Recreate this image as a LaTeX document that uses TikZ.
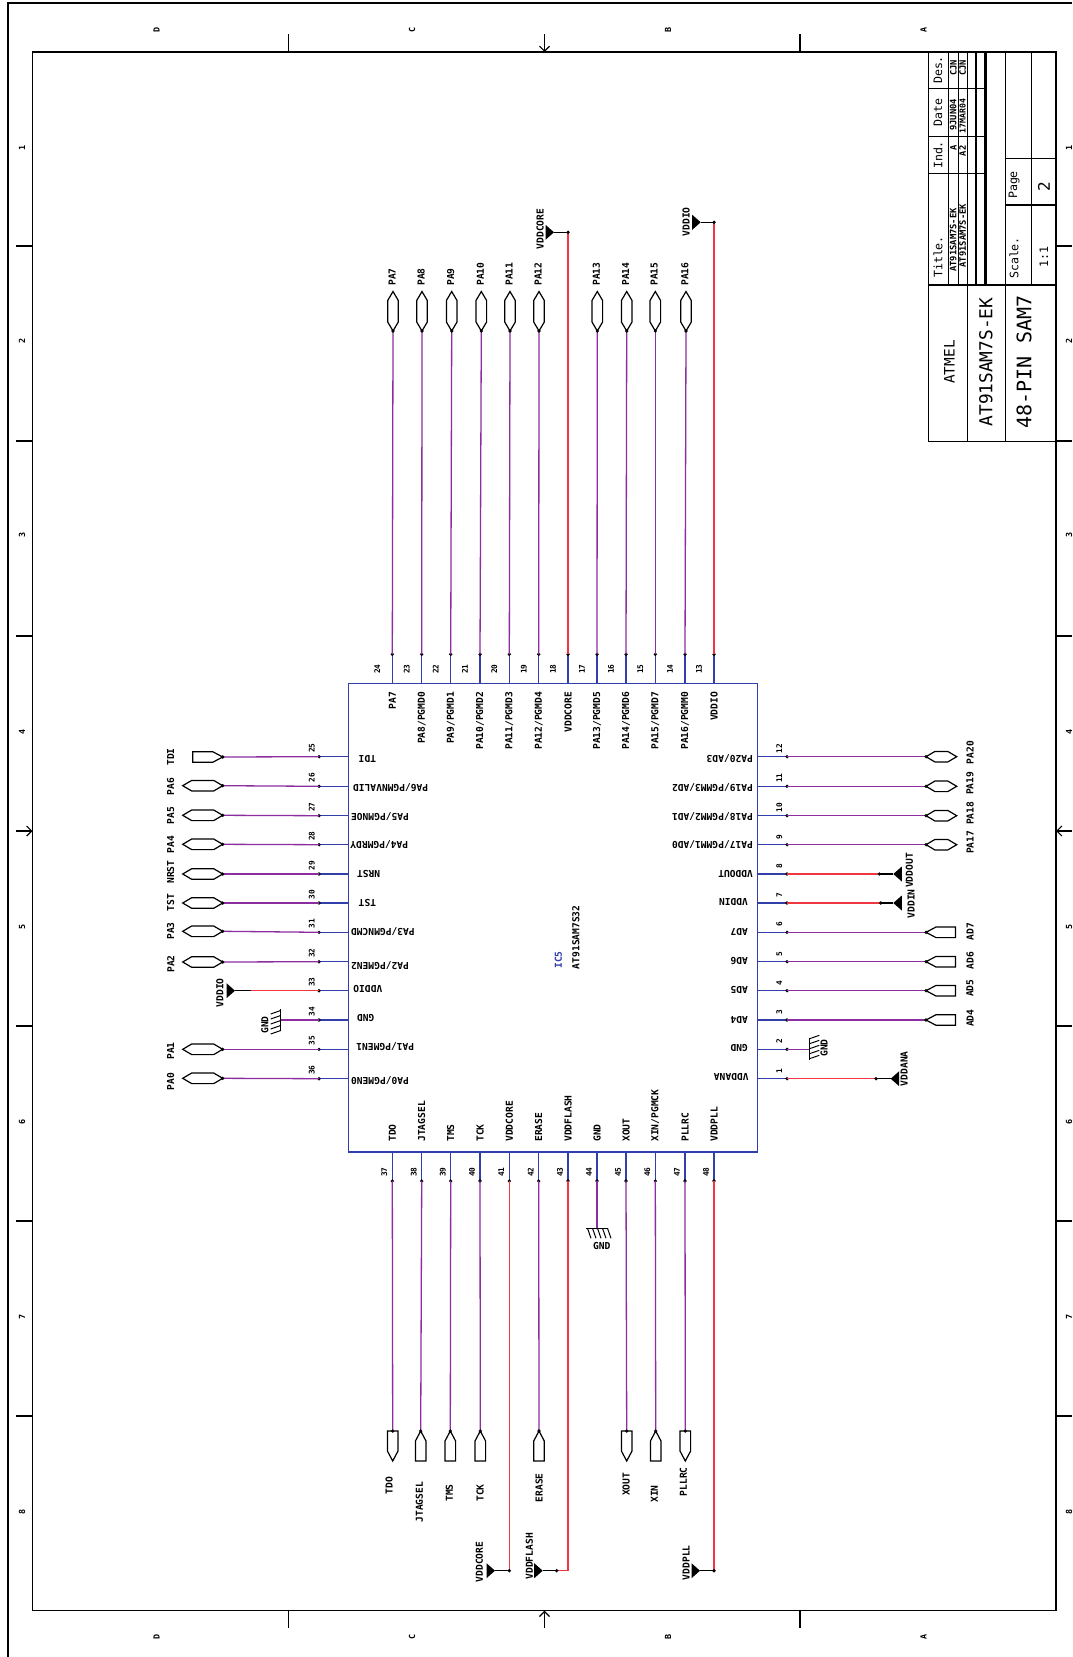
\documentclass[tikz,border=0pt]{standalone}
\usepackage{fontspec}
\setmonofont{DejaVu Sans Mono}
\usetikzlibrary{arrows.meta, positioning}
\definecolor{wireBlue}{RGB}{50,62,170}
\definecolor{wirePurple}{RGB}{140,45,160}
\definecolor{wireRed}{RGB}{240,55,65}
\tikzset{
    schemtext/.style={font=\ttfamily\bfseries\fontsize{4.8}{5}\selectfont, inner sep=0pt},
    netlabel/.style={schemtext, rotate=90},
    flipname/.style={schemtext, rotate=180},
    pinnum/.style={font=\ttfamily\bfseries\fontsize{3.9}{4}\selectfont, inner sep=0pt, rotate=90},
    titlelabel/.style={font=\ttfamily\fontsize{5.8}{6}\selectfont, inner sep=0pt, rotate=90},
    framelabel/.style={font=\ttfamily\bfseries\fontsize{4.2}{5}\selectfont, inner sep=0pt, rotate=90},
    frameline/.style={black, line width=0.6pt},
    stub/.style={wireBlue, line width=0.65pt},
    signal/.style={wirePurple, line width=0.65pt},
    power/.style={wireRed, line width=0.65pt},
    bond/.style={black, line width=0.6pt},
    hexport/.pic={\draw[bond] (0,0)--(9,5.3)--(#1-9,5.3)--(#1,0)--(#1-9,-5.3)--(9,-5.3)--cycle;},
    inport/.pic={\draw[bond] (0,0)--(10,5.3)--(#1,5.3)--(#1,-5.3)--(10,-5.3)--cycle;},
    outport/.pic={\draw[bond] (0,5.3)--(#1-10,5.3)--(#1,0)--(#1-10,-5.3)--(0,-5.3)--cycle;},
    powerport/.pic={\fill[black] (0,0)--(8.5,7.5)--(8.5,-7.5)--cycle;},
    groundport/.pic={
        \draw[bond] (0,-11)--(0,11);
        \foreach \h in {-10.5,-5.5,-0.5,4.5,9.5} {\draw[bond, line width=0.5pt] (0,\h)--(10,\h-3.5);}
    }
}
\newcommand{\pinmark}[1]{\fill[black] (#1) circle (1.8);}
\begin{document}
\begin{tikzpicture}[x=0.5pt, y=-0.5pt, >={Straight Barb[length=2.5pt,width=5pt]}]
    \useasboundingbox (0,0) rectangle (1072,1657);
    \fill[white] (0,0) rectangle (1072,1657);

    % Frame
    \draw[frameline] (8,1657)--(8,3)--(1072,3);
    \draw[frameline] (32.5,52) rectangle (1056,1610.7);
    \foreach \tx in {288.6,800} {
        \draw[frameline] (\tx,34)--(\tx,52);
        \draw[frameline] (\tx,1610.7)--(\tx,1628);
    }
    \foreach \ty in {246,441,636,1026,1221,1416} {
        \draw[frameline] (15.5,\ty)--(32.5,\ty);
        \draw[frameline] (1056,\ty)--(1072,\ty);
    }
    \draw[frameline, ->] (544.5,34)--(544.5,52);
    \draw[frameline, ->] (544.5,1628)--(544.5,1610.7);
    \draw[frameline, ->] (15.5,831)--(32.5,831);
    \draw[frameline, ->] (1072,831)--(1056,831);
    \foreach \tx/\zone in {156.5/D,412/C,668/B,923.5/A} {
        \node[framelabel] (top\zone) at (\tx,30) {\zone};
        \node[framelabel] (bot\zone) at (\tx,1637) {\zone};
    }
    \foreach \ty/\zone in {148/1,341/2,535/3,732/4,927/5,1122/6,1317/7,1512/8} {
        \node[framelabel] (lft\zone) at (22,\ty) {\zone};
        \node[framelabel] (rgt\zone) at (1069,\ty) {\zone};
    }

    % Title block
    \draw[frameline] (928.3,52) rectangle (1056,441.5);
    \draw[frameline] (928.3,285)--(1056,285);
    \foreach \vx in {948.3,958.3,967.7,976,985,986.5} {\draw[frameline] (\vx,52)--(\vx,285);}
    \foreach \vx in {1005.3,1031.3} {\draw[frameline] (\vx,52)--(\vx,285);}
    \foreach \vx in {967.7,1005.3} {\draw[frameline] (\vx,285)--(\vx,441.5);}
    \foreach \hy in {88.3,136.7,173.3} {\draw[frameline] (928.3,\hy)--(985,\hy);}
    \foreach \hy in {158.3,205} {\draw[frameline] (1005.3,\hy)--(1056,\hy);}
    \node[titlelabel] (hDes) at (938,70) {Des.};
    \node[titlelabel] (hDate) at (938,112.5) {Date};
    \node[titlelabel] (hInd) at (938,155) {Ind.};
    \node[titlelabel] (hTitle) at (938,257) {Title.};
    \node[netlabel, font=\ttfamily\bfseries\fontsize{4.4}{5}\selectfont] (rowA1) at (953.3,68) {CJN};
    \node[netlabel, font=\ttfamily\bfseries\fontsize{4.4}{5}\selectfont] (rowA2) at (953.3,115) {9JUN04};
    \node[netlabel, font=\ttfamily\bfseries\fontsize{4.4}{5}\selectfont] (rowA3) at (953.3,148) {A};
    \node[netlabel, font=\ttfamily\bfseries\fontsize{4.4}{5}\selectfont] (rowA4) at (953.3,240) {AT91SAM7S-EK};
    \node[netlabel, font=\ttfamily\bfseries\fontsize{4.4}{5}\selectfont] (rowB1) at (962.7,68) {CJN};
    \node[netlabel, font=\ttfamily\bfseries\fontsize{4.1}{5}\selectfont] (rowB2) at (962.7,116) {17MAR04};
    \node[netlabel, font=\ttfamily\bfseries\fontsize{4.4}{5}\selectfont] (rowB3) at (962.7,151) {A2};
    \node[netlabel, font=\ttfamily\bfseries\fontsize{4.4}{5}\selectfont] (rowB4) at (962.7,235.7) {AT91SAM7S-EK};
    \node[titlelabel] (hScale) at (1014,258) {Scale.};
    \node[titlelabel] (hPage) at (1014,185) {Page};
    \node[titlelabel] (vScale) at (1044,256.7) {1:1};
    \node[titlelabel, font=\ttfamily\fontsize{8}{9}\selectfont] (vPage) at (1044,186.7) {2};
    \node[titlelabel, font=\ttfamily\fontsize{7.2}{9}\selectfont] (vendor) at (949.3,362) {ATMEL};
    \node[titlelabel, font=\ttfamily\fontsize{8.9}{10}\selectfont] (board) at (986,362) {AT91SAM7S-EK};
    \node[titlelabel, font=\ttfamily\fontsize{10}{11}\selectfont] (sheet) at (1024,362) {48-PIN SAM7};

    % Chip
    \draw[stub] (348.7,683.7) rectangle (757.7,1152);
    \node[netlabel, wireBlue] (refdes) at (558.3,960) {IC5};
    \node[netlabel] (partname) at (576,937.3) {AT91SAM7S32};

    % Top pins
    \foreach \num/\px/\pname in {24/392.3/PA7, 23/421.7/{PA8/PGMD0}, 22/450.7/{PA9/PGMD1}, 21/480/{PA10/PGMD2}, 20/509.3/{PA11/PGMD3}, 19/538.7/{PA12/PGMD4}, 18/568/VDDCORE, 17/597/{PA13/PGMD5}, 16/626/{PA14/PGMD6}, 15/655.3/{PA15/PGMD7}, 14/685/{PA16/PGMM0}, 13/714/VDDIO} {
        \coordinate (pin\num) at (\px,683.7);
        \coordinate (dot\num) at (\px,654.3);
        \draw[stub] (pin\num)--(dot\num);
        \pinmark{dot\num}
        \node[pinnum] (num\num) at (\px-15,669) {\num};
        \node[netlabel, anchor=east] (name\num) at (\px,691.5) {\pname};
    }
    % Bottom pins
    \foreach \num/\px/\pname in {37/392.3/TDO, 38/421.7/JTAGSEL, 39/450.7/TMS, 40/480/TCK, 41/509.3/VDDCORE, 42/538.7/ERASE, 43/568/VDDFLASH, 44/597/GND, 45/626/XOUT, 46/655.3/{XIN/PGMCK}, 47/685/PLLRC, 48/714/VDDPLL} {
        \coordinate (pin\num) at (\px,1152);
        \coordinate (dot\num) at (\px,1181);
        \draw[stub] (pin\num)--(dot\num);
        \pinmark{dot\num}
        \node[pinnum] (num\num) at (\px-8,1172) {\num};
        \node[netlabel, anchor=west] (name\num) at (\px,1142) {\pname};
    }
    % Left pins
    \foreach \num/\py/\nx/\ny/\pname in {25/756.7/358.3/759/TDI, 26/786.3/352.7/787.3/{PA6/PGMNVALID}, 27/815.7/350.7/816.3/{PA5/PGMNOE}, 28/844.7/350/845/{PA4/PGMRDY}, 29/874/356.7/874/NRST, 30/903/358.3/903/TST, 31/932.3/350.7/931.3/{PA3/PGMNCMD}, 32/961.7/350.7/965.7/{PA2/PGMEN2}, 33/990.7/353/989/VDDIO, 34/1020/356.7/1018/GND, 35/1049.3/356/1046.7/{PA1/PGMEN1}, 36/1078.7/350.7/1080.7/{PA0/PGMEN0}} {
        \coordinate (pin\num) at (348.7,\py);
        \coordinate (dot\num) at (319,\py);
        \draw[stub] (pin\num)--(dot\num);
        \pinmark{dot\num}
        \node[pinnum] (num\num) at (311.7,\py-8.7) {\num};
        \node[flipname, anchor=east] (name\num) at (\nx,\ny) {\pname};
    }
    % Right pins
    \foreach \num/\py/\nx/\ny/\pname in {12/756.7/753.3/759/{PA20/AD3}, 11/786.3/753.3/787.3/{PA19/PGMM3/AD2}, 10/815.7/753.3/816.3/{PA18/PGMM2/AD1}, 9/844.7/753.3/845/{PA17/PGMM1/AD0}, 8/874/753.3/874/VDDOUT, 7/903/748.3/902.3/VDDIN, 6/932.3/748.3/932/AD7, 5/961.7/748.3/961/AD6, 4/990.7/748.3/990.3/AD5, 3/1020/748.3/1019.7/AD4, 2/1049.3/748.3/1048.3/GND, 1/1078.7/749/1077.3/VDDANA} {
        \coordinate (pin\num) at (757.7,\py);
        \coordinate (dot\num) at (787,\py);
        \draw[stub] (pin\num)--(dot\num);
        \pinmark{dot\num}
        \node[pinnum] (num\num) at (779.3,\py-8) {\num};
        \node[flipname, anchor=west] (name\num) at (\nx,\ny) {\pname};
    }

    % Signals, top
    \foreach \num/\cx/\sig in {24/393/PA7, 23/422/PA8, 22/451.7/PA9, 21/481.3/PA10, 20/510/PA11, 19/539/PA12, 17/597.3/PA13, 16/626.7/PA14, 15/655.3/PA15, 14/686/PA16} {
        \coordinate (port\num) at (\cx,331);
        \draw[signal] (dot\num)--(port\num);
        \pinmark{port\num}
        \pic[rotate=90] at (port\num) {hexport=39.5};
        \node[netlabel, anchor=west] (net\num) at (\cx-1,286) {\sig};
    }
    % Signals, left
    \foreach \num/\cy/\sig/\ly in {26/785.7/PA6/786.7, 27/815.3/PA5/815.7, 28/844.3/PA4/844.7, 29/874/NRST/872, 30/903/TST/902.7, 31/931.3/PA3/931, 32/962/PA2/964, 35/1049.3/PA1/1051, 36/1078.3/PA0/1081.7} {
        \coordinate (port\num) at (222.7,\cy);
        \draw[signal] (dot\num)--(port\num);
        \pinmark{port\num}
        \pic[rotate=180] at (port\num) {hexport=40};
        \node[netlabel] (net\num) at (170.7,\ly) {\sig};
    }
    \coordinate (port25) at (222.7,757);
    \draw[signal] (dot25)--(port25);
    \pinmark{port25}
    \pic[rotate=180] at (port25) {inport=30};
    \node[netlabel] (net25) at (170.7,757) {TDI};
    % Signals, right
    \foreach \num/\cy/\sig/\ly in {12/756.7/PA20/752.7, 11/786.3/PA19/783.3, 10/815.7/PA18/813.3, 9/844.7/PA17/842.3} {
        \coordinate (port\num) at (926,\cy);
        \draw[signal] (dot\num)--(port\num);
        \pinmark{port\num}
        \pic at (port\num) {hexport=30.7};
        \node[netlabel] (net\num) at (970,\ly) {\sig};
    }
    \foreach \num/\cy/\sig/\ly in {6/932.3/AD7/931.7, 5/961.7/AD6/960.7, 4/990.7/AD5/988.3, 3/1020/AD4/1018.3} {
        \coordinate (port\num) at (926,\cy);
        \draw[signal] (dot\num)--(port\num);
        \pinmark{port\num}
        \pic at (port\num) {inport=29.5};
        \node[netlabel] (net\num) at (970,\ly) {\sig};
    }
    % Signals, bottom
    \foreach \num/\cx/\kind/\sig/\lx/\ly in {37/392.7/outport/TDO/389/1485.7, 38/420.7/inport/JTAGSEL/419.3/1502.3, 39/450.3/inport/TMS/449.3/1493, 40/480.3/inport/TCK/480/1493, 42/539/inport/ERASE/539/1487.7, 45/626.7/outport/XOUT/626/1484.3, 46/655.7/inport/XIN/654.3/1494, 47/685.3/outport/PLLRC/683.3/1481.7} {
        \coordinate (port\num) at (\cx,1431);
        \draw[signal] (dot\num)--(port\num);
        \pinmark{port\num}
        \pic[rotate=-90] at (port\num) {\kind=30};
        \node[netlabel] (net\num) at (\lx,\ly) {\sig};
    }

    % Power
    \coordinate (pwr18) at (568,232.3);
    \draw[power] (dot18)--(pwr18);
    \coordinate (tri18) at (554,232.3);
    \draw[bond] (pwr18)--(tri18);
    \pinmark{pwr18}
    \pic[rotate=180] at (tri18) {powerport};
    \node[netlabel] (net18) at (540,229) {VDDCORE};

    \coordinate (pwr13) at (714,222.3);
    \draw[power] (dot13)--(pwr13);
    \coordinate (tri13) at (700.7,222.3);
    \draw[bond] (pwr13)--(tri13);
    \pinmark{pwr13}
    \pic[rotate=180] at (tri13) {powerport};
    \node[netlabel] (net13) at (686,221.7) {VDDIO};

    \coordinate (pwr33) at (251,990.7);
    \draw[power] (dot33)--(pwr33);
    \coordinate (tri33) at (235,990.7);
    \draw[bond] (pwr33)--(tri33);
    \pic[rotate=180] at (tri33) {powerport};
    \node[netlabel] (net33) at (220,992.7) {VDDIO};

    \foreach \num/\py/\wx/\tx/\lx/\ly/\sig in {8/874/879.3/893.3/909.3/870.5/VDDOUT, 7/903/880.7/893.3/911/903.7/VDDIN, 1/1078.7/876/890.7/904/1068.7/VDDANA} {
        \coordinate (pwr\num) at (\wx,\py);
        \coordinate (tri\num) at (\tx,\py);
        \draw[power] (dot\num)--(pwr\num);
        \draw[bond] (pwr\num)--(tri\num);
        \pinmark{pwr\num}
        \pic at (tri\num) {powerport};
        \node[netlabel] (net\num) at (\lx,\ly) {\sig};
    }

    \coordinate (pwr41) at (509.3,1570.7);
    \coordinate (tri41) at (495,1570.7);
    \draw[power] (dot41)--(pwr41);
    \draw[bond] (pwr41)--(tri41);
    \pinmark{pwr41}
    \pic[rotate=180] at (tri41) {powerport};
    \node[netlabel] (net41) at (479.3,1562) {VDDCORE};

    \coordinate (pwr43) at (556.7,1570.7);
    \coordinate (tri43) at (542.7,1570.7);
    \draw[power] (dot43)--(568,1570.7)--(pwr43);
    \draw[bond] (pwr43)--(tri43);
    \pinmark{pwr43}
    \pic[rotate=180] at (tri43) {powerport};
    \node[netlabel] (net43) at (529.3,1556.3) {VDDFLASH};

    \coordinate (pwr48) at (714,1570.7);
    \coordinate (tri48) at (700,1570.7);
    \draw[power] (dot48)--(pwr48);
    \draw[bond] (pwr48)--(tri48);
    \pinmark{pwr48}
    \pic[rotate=180] at (tri48) {powerport};
    \node[netlabel] (net48) at (686,1562.7) {VDDPLL};

    % Ground
    \coordinate (gnd2) at (809.3,1049.3);
    \draw[signal] (dot2)--(gnd2);
    \pic at (gnd2) {groundport};
    \node[netlabel] (net2) at (824,1048) {GND};

    \coordinate (gnd34) at (280.7,1020);
    \draw[signal] (dot34)--(gnd34);
    \pic[rotate=180] at (gnd34) {groundport};
    \node[netlabel] (net34) at (265,1025) {GND};

    \coordinate (gnd44) at (597,1228.3);
    \draw[signal] (dot44)--(gnd44);
    \pic[rotate=-90] at (gnd44) {groundport};
    \node[schemtext] (net44) at (601.7,1246) {GND};
\end{tikzpicture}
\end{document}
